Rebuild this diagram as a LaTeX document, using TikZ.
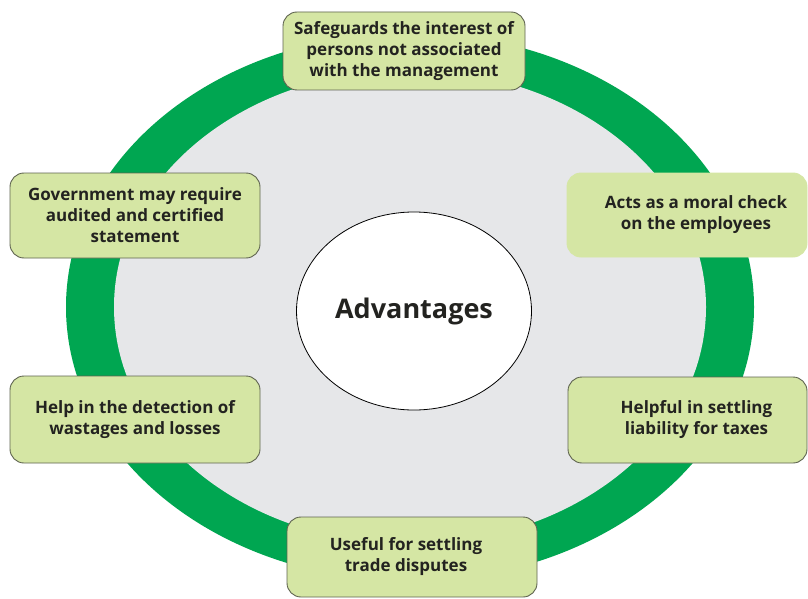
\documentclass[tikz,border=0pt]{standalone}
\usepackage{fontspec}
\setmainfont{Open Sans}
\usetikzlibrary{shapes.geometric}
\definecolor{ringgreen}{RGB}{0,166,81}
\definecolor{innergray}{RGB}{230,231,233}
\definecolor{boxfill}{RGB}{213,230,164}
\definecolor{boxline}{RGB}{95,100,80}
\definecolor{txt}{RGB}{35,35,32}
\tikzset{
  advbox/.style={rectangle, rounded corners=14pt, fill=boxfill, draw=boxline, line width=0.9pt,
    align=center, font=\fontsize{17}{21}\selectfont\bfseries, text=txt, inner sep=0pt},
}
\begin{document}
\begin{tikzpicture}[x=1pt,y=-1pt]
\useasboundingbox (0,0) rectangle (808,599);
\fill[white] (0,0) rectangle (808,599);
% ring
\fill[ringgreen] (410,307) ellipse [x radius=344, y radius=274];
\fill[innergray] (410,307) ellipse [x radius=296, y radius=237];
% centre
\node[ellipse, draw=black, line width=0.8pt, fill=white, minimum width=235pt, minimum height=198pt,
      inner sep=0pt, font=\fontsize{27}{30}\selectfont\bfseries, text=txt] (adv) at (414,311) {\raisebox{4pt}{Advantages}};
% boxes
\node[advbox, minimum width=242pt, minimum height=78pt] (top) at (404,51)
  {Safeguards the interest of\\persons not associated\\with the management};
\node[advbox, minimum width=250pt, minimum height=85pt] (gov) at (135,215.5)
  {Government may require\\audited and certified\\statement};
\node[advbox, draw=boxfill, minimum width=240pt, minimum height=84pt] (acts) at (687,215)
  {\hspace*{18pt}Acts as a moral check\\\hspace*{18pt}on the employees};
\node[advbox, minimum width=250pt, minimum height=87pt] (help) at (135,419.5)
  {Help in the detection of\\wastages and losses};
\node[advbox, minimum width=239pt, minimum height=86pt] (helpful) at (687.5,420)
  {\hspace*{18pt}Helpful in settling\\\hspace*{18pt}liability for taxes};
\node[advbox, minimum width=250pt, minimum height=80pt] (useful) at (412,557)
  {\hspace*{-12pt}Useful for settling\\\hspace*{-12pt}trade disputes};
\end{tikzpicture}
\end{document}
